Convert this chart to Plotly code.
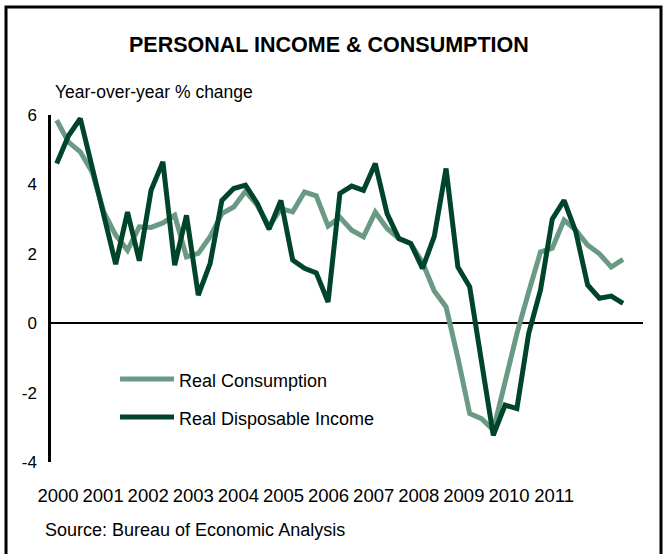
import plotly.graph_objects as go

# quarterly, 2000Q1 .. 2012Q1, year-over-year % change
quarters = [f"{2000 + i // 4}Q{i % 4 + 1}" for i in range(49)]

real_consumption = [
    5.85, 5.22, 4.94, 4.36, 3.2, 2.54, 2.1, 2.78,
    2.76, 2.89, 3.11, 1.91, 2.01, 2.49, 3.16, 3.35,
    3.8, 3.4, 2.78, 3.3, 3.21, 3.78, 3.67, 2.8,
    3.05, 2.68, 2.49, 3.2, 2.73, 2.44, 2.3, 1.75,
    0.93, 0.47, -1.0, -2.6, -2.75, -3.08, -1.7, -0.3,
    0.9, 2.05, 2.16, 2.97, 2.68, 2.25, 2.0, 1.62,
    1.84,
]
real_disposable_income = [
    4.6, 5.4, 5.9, 4.5, 3.1, 1.7, 3.2, 1.8,
    3.83, 4.65, 1.67, 3.11, 0.81, 1.72, 3.54, 3.88,
    3.98, 3.45, 2.71, 3.54, 1.82, 1.58, 1.45, 0.61,
    3.74, 3.95, 3.83, 4.6, 3.16, 2.44, 2.3, 1.58,
    2.5, 4.46, 1.62, 1.05, -1.1, -3.23, -2.36, -2.46,
    -0.3, 0.95, 3.0, 3.54, 2.63, 1.1, 0.72, 0.78,
    0.57,
]
year_labels = [str(y) for y in range(2000, 2012)]
y_ticks = [-4, -2, 0, 2, 4, 6]

LIGHT = "#6A9984"
DARK = "#00442C"
FONT = "Liberation Sans, Arial, sans-serif"

idx = list(range(len(quarters)))

fig = go.Figure()
fig.add_trace(go.Scatter(x=idx, y=real_consumption, mode="lines",
                         name="Real Consumption", text=quarters,
                         line={"color": LIGHT, "width": 5}))
fig.add_trace(go.Scatter(x=idx, y=real_disposable_income, mode="lines",
                         name="Real Disposable Income", text=quarters,
                         line={"color": DARK, "width": 5}))

# year labels in the original sit a bit tighter than the quarters
year_pos = [(1.3 + 45.1 * k) / 11.8 for k in range(len(year_labels))]

fig.update_layout(
    width=665, height=554,
    margin={"l": 51, "r": 22, "t": 115, "b": 92},
    paper_bgcolor="white", plot_bgcolor="white",
    showlegend=False,
    font={"family": FONT, "size": 17, "color": "black"},
    xaxis={"range": [-0.483, 49.69], "showgrid": False, "zeroline": False,
           "tickvals": year_pos, "ticktext": year_labels, "ticks": "",
           "ticklabelstandoff": 20, "tickfont": {"size": 18.5}},
    yaxis={"range": [-4, 6], "tickvals": y_ticks,
           "ticktext": [str(v) for v in y_ticks], "showgrid": False,
           "zeroline": True, "zerolinecolor": "black", "zerolinewidth": 2,
           "showline": True, "linecolor": "black", "linewidth": 2.5,
           "ticks": "", "ticklabelstandoff": 8},
)

# frame around the whole picture
fig.add_shape(type="rect", xref="paper", yref="paper",
              x0=-0.076, x1=1.0304, y0=-0.3, y1=1.311,
              line={"color": "black", "width": 3})

fig.add_annotation(text="<b>PERSONAL INCOME & CONSUMPTION</b>",
                   xref="paper", yref="paper", x=0.47, y=1.2017,
                   yanchor="middle", showarrow=False, font={"size": 21.5})
fig.add_annotation(text="Year-over-year % change", xref="paper", yref="paper",
                   x=0.0034, y=1.066, xanchor="left", yanchor="middle",
                   showarrow=False, font={"size": 17.5})
fig.add_annotation(text="Source: Bureau of Economic Analysis", xref="paper",
                   yref="paper", x=-0.0135, y=-0.196, xanchor="left",
                   yanchor="middle", showarrow=False, font={"size": 18})

# hand-drawn legend like the original
for name, color, ly, ty in [("Real Consumption", LIGHT, 0.239, 0.2334),
                            ("Real Disposable Income", DARK, 0.1297, 0.1239)]:
    fig.add_shape(type="line", xref="paper", yref="paper",
                  x0=0.1166, x1=0.2078, y0=ly, y1=ly,
                  line={"color": color, "width": 5})
    fig.add_annotation(text=name, xref="paper", yref="paper", x=0.2128, y=ty,
                       xanchor="left", yanchor="middle", showarrow=False,
                       font={"size": 18})

# page body has a default 8px margin; drop it so the figure sits at 0,0
fig.write_html("out.html", config={"displayModeBar": False},
               post_script="document.body.style.margin='0';")
